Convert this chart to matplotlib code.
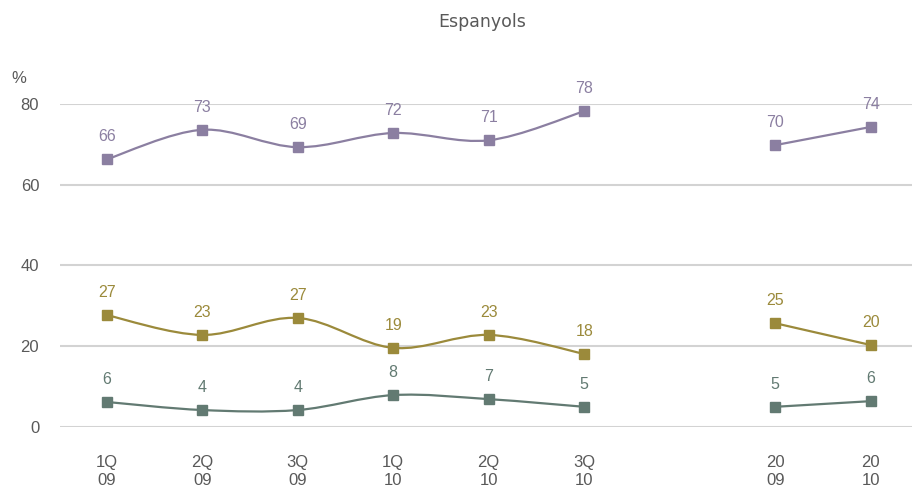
import numpy as np
import matplotlib
matplotlib.use("Agg")
import matplotlib.pyplot as plt
from matplotlib.path import Path
from matplotlib.patches import PathPatch

plt.rcParams["font.family"] = ["Liberation Sans", "DejaVu Sans"]

# Data
categories = ["1Q\n09", "2Q\n09", "3Q\n09", "1Q\n10", "2Q\n10", "3Q\n10", "20\n09", "20\n10"]
xpos = [0, 1, 2, 3, 4, 5, 7, 8]
purple_vals = [66.3, 73.6, 69.3, 72.8, 71.0, 78.2, 69.8, 74.3]
purple_labels = [66, 73, 69, 72, 71, 78, 70, 74]
olive_vals = [27.7, 22.8, 27.0, 19.6, 22.8, 18.1, 25.7, 20.3]
olive_labels = [27, 23, 27, 19, 23, 18, 25, 20]
teal_vals = [6.2, 4.2, 4.2, 7.9, 6.9, 5.0, 5.0, 6.4]
teal_labels = [6, 4, 4, 8, 7, 5, 5, 6]

series = [
    (purple_vals, purple_labels, "#8b7fa1"),
    (olive_vals, olive_labels, "#9b8a3b"),
    (teal_vals, teal_labels, "#627a72"),
]
groups = [(0, 6), (6, 8)]  # quarterly segment, yearly segment


def smooth_path(xs, ys):
    # Bezier curve through points (Catmull-Rom style control points)
    pts = np.column_stack([xs, ys]).astype(float)
    n = len(pts)
    verts = [pts[0]]
    codes = [Path.MOVETO]
    for i in range(n - 1):
        p0 = pts[i - 1] if i > 0 else pts[i]
        p1, p2 = pts[i], pts[i + 1]
        p3 = pts[i + 2] if i + 2 < n else pts[i + 1]
        c1 = p1 + (p2 - p0) / 6
        c2 = p2 - (p3 - p1) / 6
        verts += [c1, c2, p2]
        codes += [Path.CURVE4] * 3
    return Path(verts, codes)


fig = plt.figure(figsize=(9.14, 4.88), dpi=100)
ax = fig.add_axes([0.0656, 0.125, 0.932, 0.662])

text_col = "#595959"
for vals, labels, col in series:
    for a, b in groups:
        p = smooth_path(xpos[a:b], vals[a:b])
        ax.add_patch(PathPatch(p, facecolor="none", edgecolor=col, lw=1.6, zorder=3))
    ax.plot(xpos, vals, linestyle="none", marker="s", ms=7.5, color=col, zorder=4)
    for x, v, lab in zip(xpos, vals, labels):
        ax.annotate(str(lab), (x, v), xytext=(0, 11), textcoords="offset points",
                    ha="center", va="bottom", fontsize=11.5, color=col, clip_on=False)

ax.set_xlim(-0.49, 8.43)
ax.set_ylim(0, 80)
ax.set_yticks([0, 20, 40, 60, 80])
ax.set_xticks(xpos)
ax.set_xticklabels(categories)
ax.yaxis.grid(True, color="#d3d3d3", lw=1.5)
ax.set_axisbelow(True)
for s in ax.spines.values():
    s.set_visible(False)
ax.tick_params(axis="both", length=0, labelsize=12, labelcolor=text_col)
ax.tick_params(axis="y", pad=15)
ax.tick_params(axis="x", pad=20)
for t in ax.get_xticklabels():
    t.set_linespacing(1.3)

fig.text(0.012, 0.83, "%", fontsize=12, color=text_col)
fig.text(0.528, 0.955, "Espanyols", ha="center", va="center", fontsize=12.5,
         color=text_col, family="DejaVu Sans")

plt.savefig("out.png", dpi=100)
